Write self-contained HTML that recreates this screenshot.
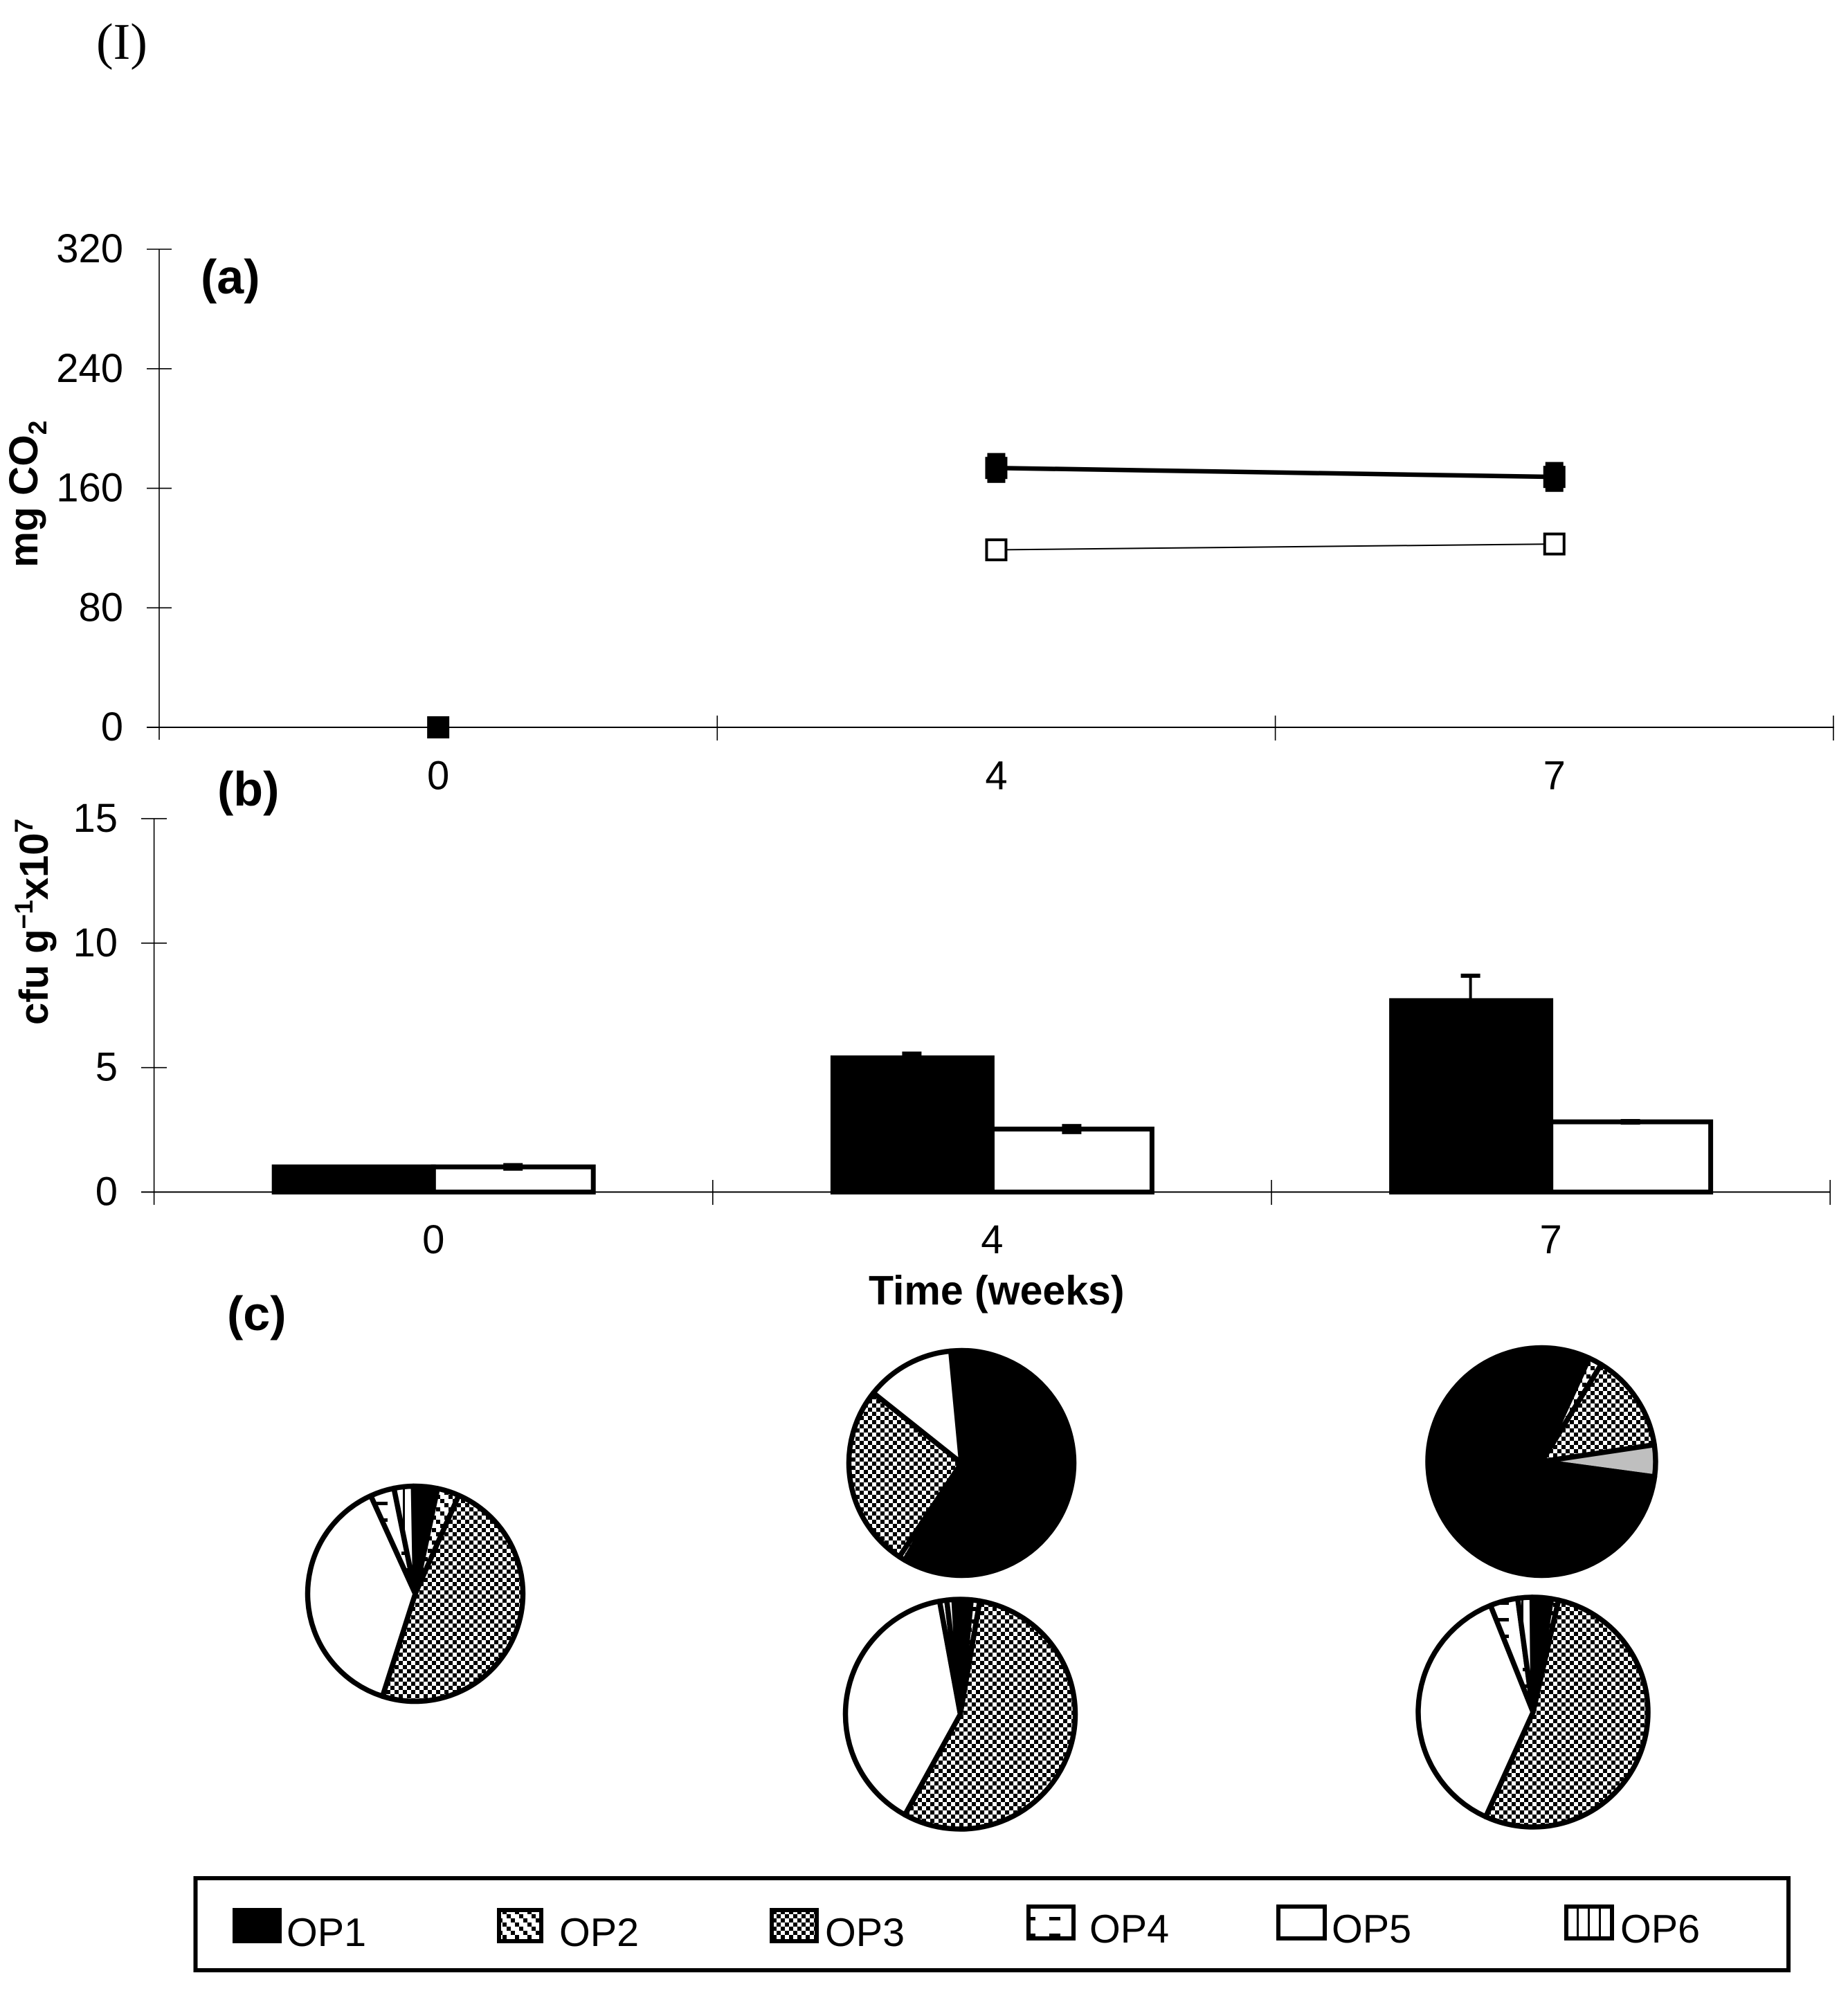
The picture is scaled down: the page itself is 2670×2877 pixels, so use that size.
<!DOCTYPE html>
<html lang="en">
<head>
<meta charset="utf-8">
<title>CO2, cfu and OP community composition over time</title>
<style>
  html, body { margin: 0; padding: 0; background: #fff; }
  svg { display: block; }
  text { font-family: "Liberation Sans", Arial, sans-serif; fill: #000; }
  .b { font-weight: bold; }
</style>
</head>
<body>
<svg id="fig" xmlns="http://www.w3.org/2000/svg" width="2670" height="2877" viewBox="0 0 2670 2877">
  <defs>
    <pattern id="p-op2" patternUnits="userSpaceOnUse" width="18" height="18">
      <rect width="18" height="18" fill="#fff"/>
      <rect x="0" y="0" width="6" height="6" fill="#000"/>
      <rect x="6" y="6" width="6" height="6" fill="#000"/>
      <rect x="12" y="12" width="6" height="6" fill="#000"/>
    </pattern>
    <pattern id="p-op3" patternUnits="userSpaceOnUse" width="12" height="12">
      <rect width="12" height="12" fill="#fff"/>
      <rect x="0" y="0" width="6" height="6" fill="#000"/>
      <rect x="6" y="6" width="6" height="6" fill="#000"/>
    </pattern>
    <pattern id="p-op4" patternUnits="userSpaceOnUse" width="36" height="24">
      <rect width="36" height="24" fill="#fff"/>
      <rect x="4" y="10" width="16" height="5" fill="#000"/>
    </pattern>
    <pattern id="p-op6" patternUnits="userSpaceOnUse" width="16" height="16">
      <rect width="16" height="16" fill="#fff"/>
      <rect x="6" y="0" width="3" height="16" fill="#000"/>
    </pattern>
  </defs>
  <rect width="2670" height="2877" fill="#fff"/>

  <text x="139" y="85" font-size="74" style="font-family:'Liberation Serif',serif">(I)</text>
  <text class="b" x="290" y="424" font-size="70">(a)</text>
  <text class="b" x="314" y="1164" font-size="70">(b)</text>
  <text class="b" x="328" y="1922" font-size="70">(c)</text>

  <text class="b" font-size="58.5" transform="translate(54,820) rotate(-90)">mg CO<tspan font-size="37" dy="13">2</tspan></text>
  <text class="b" font-size="58" transform="translate(69,1481) rotate(-90)">cfu g<tspan font-size="37" dy="-22">−1</tspan><tspan dy="22">x10</tspan><tspan font-size="37" dy="-22">7</tspan></text>
  <text class="b" x="1255" y="1885" font-size="59">Time (weeks)</text>

  <g id="panel-a"></g>
  <g id="panel-b"></g>
  <g id="panel-c"></g>

  <g>
    <rect x="282.5" y="2714" width="2301.5" height="133" fill="none" stroke="#000" stroke-width="6"/>
    <g>
      <rect x="336" y="2757" width="71" height="51" fill="#000"/>
      <text x="414" y="2812" font-size="57.5">OP1</text>
    </g>
    <g>
      <rect x="721" y="2760" width="61" height="45" fill="url(#p-op2)" stroke="#000" stroke-width="6"/>
      <text x="808" y="2812" font-size="57.5">OP2</text>
    </g>
    <g>
      <rect x="1115" y="2760" width="65" height="45" fill="url(#p-op3)" stroke="#000" stroke-width="6"/>
      <text x="1192" y="2812" font-size="57.5">OP3</text>
    </g>
    <g>
      <rect x="1486" y="2755" width="65" height="46" fill="url(#p-op4)" stroke="#000" stroke-width="6"/>
      <text x="1574" y="2807" font-size="57.5">OP4</text>
    </g>
    <g>
      <rect x="1847" y="2755" width="67" height="46" fill="#fff" stroke="#000" stroke-width="6"/>
      <text x="1924" y="2807" font-size="57.5">OP5</text>
    </g>
    <g>
      <rect x="2263" y="2755" width="66" height="46" fill="url(#p-op6)" stroke="#000" stroke-width="6"/>
      <text x="2341" y="2807" font-size="57.5">OP6</text>
    </g>
  </g>
</svg>

<script>
// ---------- chart data ----------
const weekLabels = ['0', '4', '7'];

const co2TickLabels = [0, 80, 160, 240, 320];
const co2Filled = [0, 173.6, 167.6];
const co2FilledErr = [0, 10, 10];
const co2Open = [null, 118.8, 122.7];

const cfuTickLabels = [0, 5, 10, 15];
const cfuFilled = [1.01, 5.39, 7.69];
const cfuFilledErr = [0, 0.17, 1.0];
const cfuOpen = [1.01, 2.53, 2.82];
const cfuOpenErr = [0.07, 0.12, 0.03];

const pie0Cats = ['OP1', 'OP2', 'OP3', 'OP5', 'OP4', 'OP6'];
const pie0Values = [3.6, 3.3, 48.3, 38.3, 3.6, 2.9];
const pie1Cats = ['OP1', 'OP2', 'OP3', 'OP5'];
const pie1Values = [59.9, 0.9, 26.4, 12.8];
const pie2Cats = ['OP1', 'OP2', 'OP3', 'OP5', 'OP4', 'OP6'];
const pie2Values = [2.4, 1.2, 55.3, 39.1, 1.0, 1.0];
const pie3Cats = ['OP1', 'OP2', 'OP3', 'GREY', 'OP4'];
const pie3Values = [79.2, 1.9, 13.9, 4.5, 0.5];
const pie4Cats = ['OP1', 'OP2', 'OP3', 'OP5', 'OP4', 'OP6'];
const pie4Values = [2.7, 1.0, 53.2, 37.2, 3.9, 2.0];

// ---------- helpers ----------
const NS = 'http://www.w3.org/2000/svg';
function mk(tag, parent, props) {
  const el = document.createElementNS(NS, tag);
  for (const k in props) el.setAttribute(k, props[k]);
  parent.appendChild(el);
  return el;
}

// ---------- panel a ----------
const gA = document.getElementById('panel-a');
const xA = i => 230 + (i + 0.5) * 806.3;
const yA = v => 1051 - v * 2.159;

const axisAY = mk('line', gA, { x1: 230, x2: 230, y1: yA(320), y2: 1069, stroke: '#000', 'stroke-width': 1.6 });


const axisAX = mk('line', gA, { x1: 212, x2: 2650, y1: yA(0), y2: yA(0), stroke: '#000', 'stroke-width': 2 });



co2TickLabels.forEach(v => {
  const t = mk('line', gA, { x1: 212, x2: 248, y1: yA(v), y2: yA(v), stroke: '#000', 'stroke-width': 1.6 });
  
  
  const l = mk('text', gA, { x: 178, y: yA(v) + 19, 'font-size': 58, 'text-anchor': 'end' });
  l.textContent = v;
  
  
});
weekLabels.forEach((w, i) => {
  const t = mk('line', gA, { x1: xA(i) + 403.15, x2: xA(i) + 403.15, y1: 1034, y2: 1070, stroke: '#000', 'stroke-width': 1.6 });
  
  
  const l = mk('text', gA, { x: xA(i), y: 1140.5, 'font-size': 58, 'text-anchor': 'middle' });
  l.textContent = w;
  
  
});

const lineFilled = mk('line', gA, { x1: xA(1), x2: xA(2), y1: yA(co2Filled[1]), y2: yA(co2Filled[2]), stroke: '#000', 'stroke-width': 6.5 });


const lineOpen = mk('line', gA, { x1: xA(1), x2: xA(2), y1: yA(co2Open[1]), y2: yA(co2Open[2]), stroke: '#000', 'stroke-width': 2 });



co2Filled.forEach((v, i) => {
  if (co2FilledErr[i] > 0) {
    const e = mk('rect', gA, { x: xA(i) - 13, y: yA(v + co2FilledErr[i]), width: 26, height: yA(v - co2FilledErr[i]) - yA(v + co2FilledErr[i]), fill: '#000' });
    
    
  }
  const m = mk('rect', gA, { x: xA(i) - 16, y: yA(v) - 16, width: 32, height: 32, fill: '#000' });
  
  
});
co2Open.forEach((v, i) => {
  if (v === null) return;
  const m = mk('rect', gA, { x: xA(i) - 14, y: yA(v) - 14.5, width: 28, height: 29, fill: '#fff', stroke: '#000', 'stroke-width': 4 });
  
  
});

// ---------- panel b ----------
const gB = document.getElementById('panel-b');
const xB = i => 222.6 + (i + 0.5) * 807.2;
const yB = v => 1722.5 - v * 35.97;
const barW = 230;

const axisBY = mk('line', gB, { x1: 222.6, x2: 222.6, y1: yB(15), y2: 1741, stroke: '#000', 'stroke-width': 1.6 });


const axisBX = mk('line', gB, { x1: 204, x2: 2645, y1: yB(0), y2: yB(0), stroke: '#000', 'stroke-width': 2 });



cfuTickLabels.forEach(v => {
  const t = mk('line', gB, { x1: 204, x2: 241, y1: yB(v), y2: yB(v), stroke: '#000', 'stroke-width': 1.6 });
  
  
  const l = mk('text', gB, { x: 170, y: yB(v) + 19, 'font-size': 58, 'text-anchor': 'end' });
  l.textContent = v;
  
  
});
weekLabels.forEach((w, i) => {
  const t = mk('line', gB, { x1: xB(i) + 403.6, x2: xB(i) + 403.6, y1: 1705, y2: 1741, stroke: '#000', 'stroke-width': 1.6 });
  
  
  const l = mk('text', gB, { x: xB(i), y: 1811, 'font-size': 58, 'text-anchor': 'middle' });
  l.textContent = w;
  
  
});

function errorBar(g, cx, v, err, name) {
  const stem = mk('line', g, { x1: cx, x2: cx, y1: yB(v - err), y2: yB(v + err), stroke: '#000', 'stroke-width': 4 });
  
  
  const capTop = mk('rect', g, { x: cx - 14, y: yB(v + err) - 3, width: 28, height: 6, fill: '#000' });
  
  
  const capBottom = mk('rect', g, { x: cx - 14, y: yB(v - err) - 3, width: 28, height: 6, fill: '#000' });
  
  
}

weekLabels.forEach((w, i) => {
  const open = mk('rect', gB, { x: xB(i), y: yB(cfuOpen[i]), width: barW + 1, height: yB(0) - yB(cfuOpen[i]), fill: '#fff', stroke: '#000', 'stroke-width': 7 });
  
  
  const filled = mk('rect', gB, { x: xB(i) - barW, y: yB(cfuFilled[i]), width: barW, height: yB(0) - yB(cfuFilled[i]), fill: '#000', stroke: '#000', 'stroke-width': 7 });
  
  
  if (cfuFilledErr[i] > 0) errorBar(gB, xB(i) - 116, cfuFilled[i], cfuFilledErr[i], 'cfu-filled-error');
  errorBar(gB, xB(i) + 115, cfuOpen[i], cfuOpenErr[i], 'cfu-open-error');
});

// ---------- panel c ----------
const gC = document.getElementById('panel-c');
const fills = { OP1: '#000', OP2: 'url(#p-op2)', OP3: 'url(#p-op3)', OP4: 'url(#p-op4)', OP5: '#fff', OP6: 'url(#p-op6)', GREY: '#bfbfbf' };

function drawPie(name, cats, values, cx, cy, r, startDeg) {
  const g = mk('g', gC, {});
  
  
  const total = values.reduce((a, b) => a + b, 0);
  let ang = startDeg;
  values.forEach((v, i) => {
    const sweep = v / total * 360;
    const a0 = ang * Math.PI / 180;
    const a1 = (ang + sweep) * Math.PI / 180;
    const x0 = cx + r * Math.sin(a0), y0 = cy - r * Math.cos(a0);
    const x1 = cx + r * Math.sin(a1), y1 = cy - r * Math.cos(a1);
    const large = sweep > 180 ? 1 : 0;
    const d = 'M' + cx + ' ' + cy + ' L' + x0 + ' ' + y0 + ' A' + r + ' ' + r + ' 0 ' + large + ' 1 ' + x1 + ' ' + y1 + ' Z';
    const s = mk('path', g, { d: d, fill: fills[cats[i]], stroke: '#000', 'stroke-width': 7.5, 'stroke-linejoin': 'round' });
    
    
    ang += sweep;
  });
}

drawPie('pie-week-0', pie0Cats, pie0Values, 600, 2303, 155.5, -1);
drawPie('pie-week-4-top', pie1Cats, pie1Values, 1389, 2114, 162.5, -5.4);
drawPie('pie-week-4-bottom', pie2Cats, pie2Values, 1387.5, 2477, 166, -3.2);
drawPie('pie-week-7-top', pie3Cats, pie3Values, 2227.5, 2112, 164.5, 99.5);
drawPie('pie-week-7-bottom', pie4Cats, pie4Values, 2215, 2474, 166, -0.5);
</script>
</body>
</html>
